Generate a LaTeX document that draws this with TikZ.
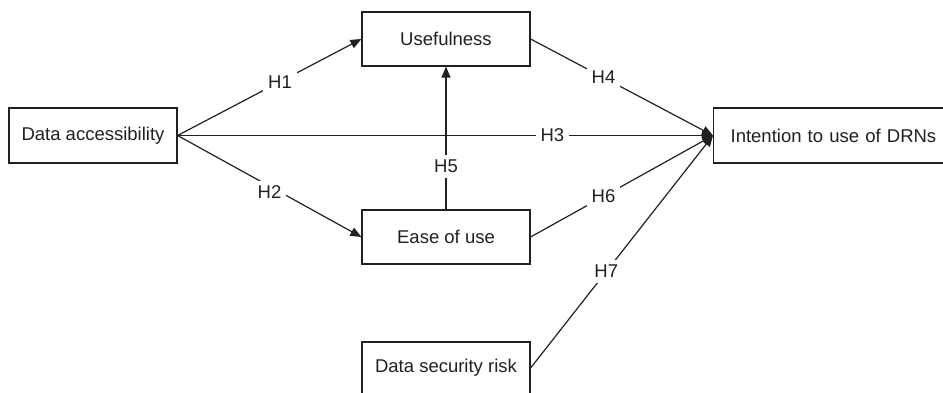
\documentclass[tikz,border=0pt]{standalone}
\usepackage{fontspec}
\setmainfont{Liberation Sans}
\usetikzlibrary{arrows.meta}
\definecolor{ink}{RGB}{35,31,32}
\begin{document}
\begin{tikzpicture}[x=1pt,y=-1pt,
  box/.style={draw=ink,line width=1.2pt,text=ink,minimum width=168pt,minimum height=54pt,inner sep=0pt,font=\fontsize{18.5}{20}\selectfont},
  link/.style={draw=ink,line width=1.2pt},
  arr/.style={link,-{Triangle[length=11pt,width=9pt]}},
  hyp/.style={fill=white,text=ink,inner sep=5pt,font=\fontsize{18.5}{20}\selectfont}]
\useasboundingbox (0,0) rectangle (943,393);
\clip (0,0) rectangle (943,393);
% constructs
\node[box,minimum height=55pt] (da) at (93,135.5) {Data accessibility};
\node[box] (use) at (446,39) {Usefulness};
\node[box] (ease) at (446,237) {Ease of use};
\node[box,minimum height=55pt,anchor=west,align=left,text width=230pt,inner xsep=17pt] (int) at (713,135.5) {Intention to use of DRNs};
\node[box,minimum height=52pt] (sec) at (446,368) {Data security risk};
% hypothesised paths
\draw[arr] (da.east) -- node[hyp,pos=0.557] {H1} (use.west);
\draw[arr] (da.east) -- node[hyp,pos=0.50,yshift=-6pt] {H2} (ease.west);
\draw[arr] (da.east) -- node[hyp,pos=0.70] {H3} (int.west);
\draw[arr] (ease.north) -- node[hyp,pos=0.30] {H5} (use.south);
\draw[arr] (use.east) -- node[hyp,pos=0.40] {H4} (int.west);
\draw[arr] (ease.east) -- node[hyp,pos=0.40] {H6} (int.west);
\draw[arr] (sec.east) -- node[hyp,pos=0.415] {H7} (int.west);
\end{tikzpicture}
\end{document}
